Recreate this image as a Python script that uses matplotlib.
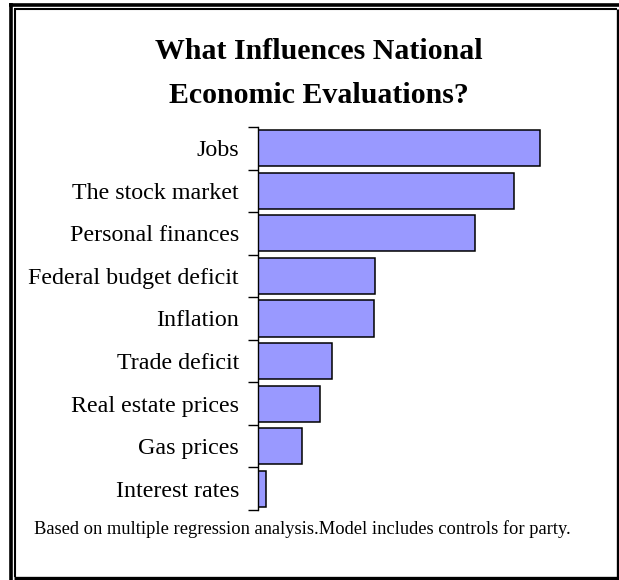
import matplotlib
matplotlib.use("Agg")
import matplotlib.pyplot as plt
from matplotlib.lines import Line2D

# Data (relative influence, arbitrary units)
categories = ["Jobs", "The stock market", "Personal finances",
              "Federal budget deficit", "Inflation", "Trade deficit",
              "Real estate prices", "Gas prices", "Interest rates"]
values = [0.850, 0.770, 0.655, 0.352, 0.348, 0.223, 0.188, 0.134, 0.023]

title_lines = ["What Influences National", "Economic Evaluations?"]
footnote = "Based on multiple regression analysis.Model includes controls for party."

W, H = 619, 580
plt.rcParams['font.family'] = ['Liberation Serif', 'DejaVu Serif']

fig = plt.figure(figsize=(W / 100, H / 100), dpi=100)
fig.patch.set_facecolor("white")


def fx(x):
    return x / W


def fy(y):
    return 1 - y / H


# frame: thick outer line, thinner inner line with heavy right/bottom edges
def frame_line(x0, y0, x1, y1, lw):
    fig.add_artist(Line2D([fx(x0), fx(x1)], [fy(y0), fy(y1)],
                          color="black", linewidth=lw, solid_capstyle="butt"))


frame_line(10.7, 3.3, 10.7, 580, 2.6)
frame_line(9, 5, 619, 5, 2.6)
frame_line(15, 8.5, 15, 577, 1.5)
frame_line(14, 9.2, 617, 9.2, 1.5)
frame_line(617.5, 8.5, 617.5, 580, 2.4)
frame_line(14, 577.5, 619, 577.5, 2.4)

# title
fig.text(fx(319), fy(59), title_lines[0], ha="center", va="baseline",
         fontsize=21.5, fontweight="bold")
fig.text(fx(319), fy(103), title_lines[1], ha="center", va="baseline",
         fontsize=21.5, fontweight="bold")

# bars
ax = fig.add_axes([fx(258), fy(510), (590 - 258) / W, 383 / H])
pos = list(range(len(categories)))
ax.barh(pos, values, height=0.85, color="#9999FF", edgecolor="black",
        linewidth=1.1, zorder=2)
ax.set_xlim(0, 1)
ax.set_ylim(len(categories) - 0.5, -0.5)

for s in ["top", "right", "bottom"]:
    ax.spines[s].set_visible(False)
ax.spines["left"].set_linewidth(1.0)
ax.set_xticks([])

ax.set_yticks([p - 0.5 for p in range(len(categories) + 1)])
ax.set_yticklabels([])
ax.tick_params(axis="y", which="major", length=7, width=1.0, direction="out")
ax.set_yticks(pos, minor=True)
ax.set_yticklabels(categories, minor=True, fontsize=17.3)
ax.tick_params(axis="y", which="minor", length=0, pad=13.7)

# footnote
fig.text(fx(302), fy(534), footnote, ha="center", va="baseline", fontsize=13.3)

fig.savefig("out.png", dpi=100, facecolor="white")
